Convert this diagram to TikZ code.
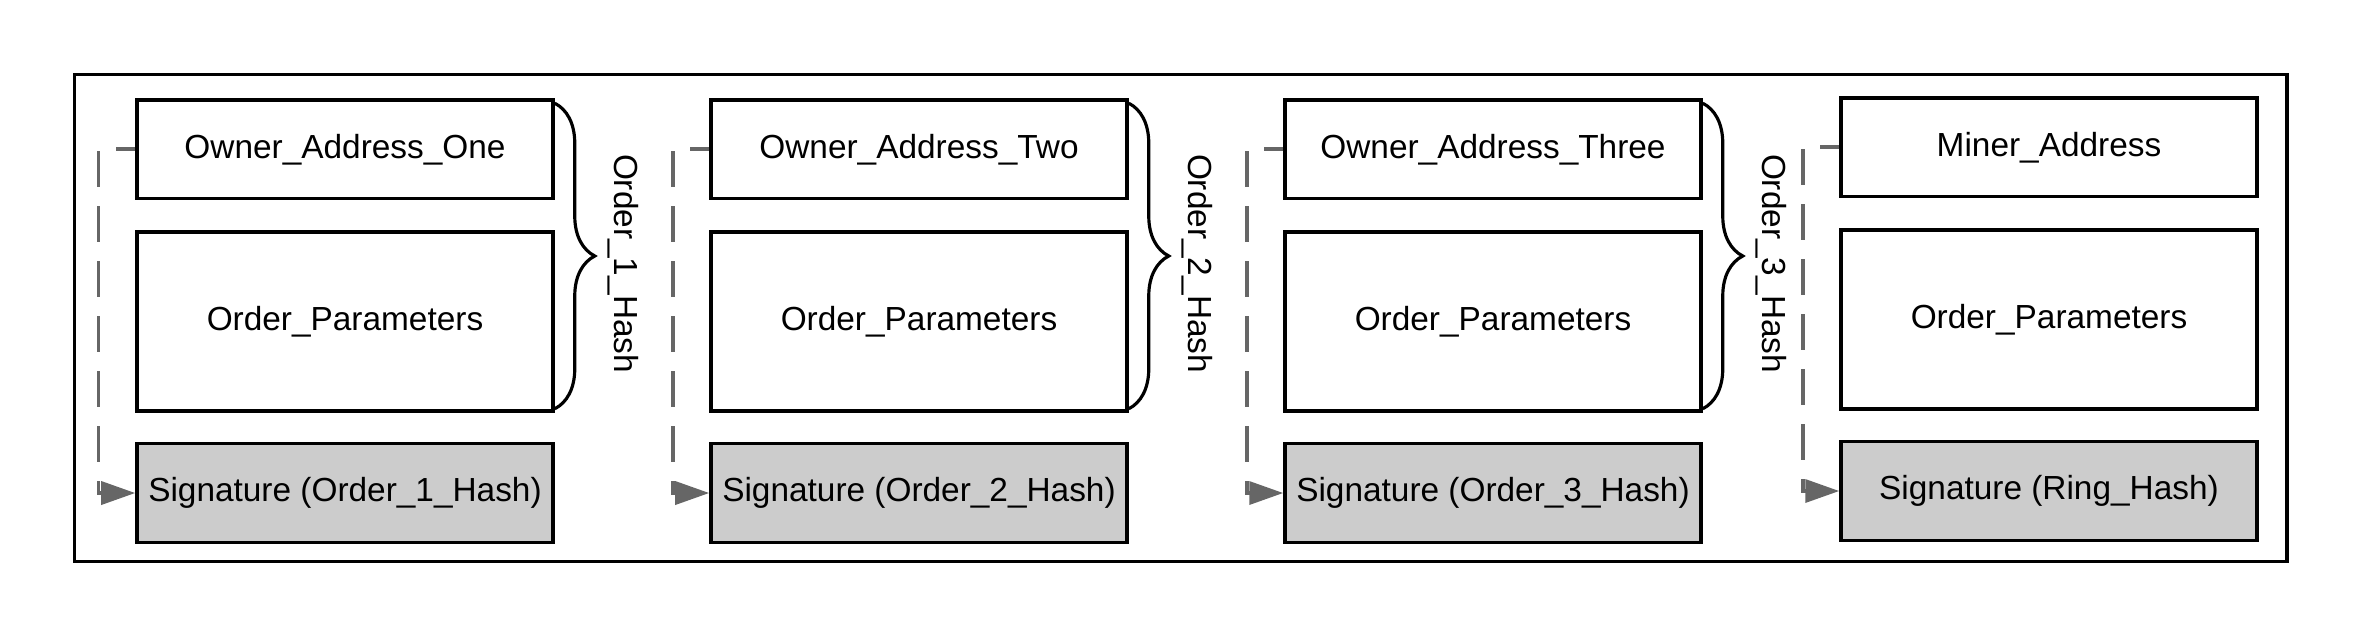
\documentclass[tikz,border=0pt]{standalone}
\usepackage{fontspec}
\setmainfont{Liberation Sans}
\usetikzlibrary{arrows.meta,positioning,calc,decorations.pathreplacing}
\definecolor{linkgray}{HTML}{666666}
\definecolor{sigfill}{HTML}{CCCCCC}
\tikzset{
  field/.style={draw, line width=1pt, minimum width=4.16cm,
    minimum height=0.985cm, inner sep=0.05cm,
    font=\fontsize{9.5pt}{11pt}\selectfont},
  params/.style={field, minimum height=1.79cm},
  sigfield/.style={field, fill=sigfill, minimum height=0.99cm},
  hashbrace/.style={decorate, decoration={brace, amplitude=0.4cm},
    line width=0.9pt},
  hashlabel/.style={rotate=-90, anchor=base,
    font=\fontsize{9.5pt}{11pt}\selectfont},
  sigline/.style={linkgray, line width=1pt,
    dash pattern=on 0.36cm off 0.19cm, dash phase=0.165cm,
    -{Triangle[length=0.34cm,width=0.23cm]}}
}

\begin{document}
\begin{tikzpicture}
  \useasboundingbox (0,0) rectangle (23.63,6.38);
  \draw[line width=1pt] (0.745,0.765) rectangle (22.87,5.635);
  % order 1
  \node[field] (own1) at (3.45,4.8875) {Owner\_Address\_One};
  \node[params,below=0.3cm of own1] (par1) {Order\_Parameters};
  \node[sigfield,below=0.29cm of par1] (sig1) {Signature (Order\_1\_Hash)};
  \draw[hashbrace] ([yshift=-0.05cm]own1.north east) -- ([yshift=0.04cm]par1.south east);
  \node[hashlabel] (hash1) at ($(own1.north east)!0.5!(par1.south east)+(0.6,-0.08)$) {Order\_1\_Hash};
  \draw[sigline] (own1.west) -- ++(-0.365,0) |- (sig1.west);
  % order 2
  \node[field] (own2) at (9.19,4.8875) {Owner\_Address\_Two};
  \node[params,below=0.3cm of own2] (par2) {Order\_Parameters};
  \node[sigfield,below=0.29cm of par2] (sig2) {Signature (Order\_2\_Hash)};
  \draw[hashbrace] ([yshift=-0.05cm]own2.north east) -- ([yshift=0.04cm]par2.south east);
  \node[hashlabel] (hash2) at ($(own2.north east)!0.5!(par2.south east)+(0.6,-0.08)$) {Order\_2\_Hash};
  \draw[sigline] (own2.west) -- ++(-0.365,0) |- (sig2.west);
  % order 3
  \node[field] (own3) at (14.93,4.8875) {Owner\_Address\_Three};
  \node[params,below=0.3cm of own3] (par3) {Order\_Parameters};
  \node[sigfield,below=0.29cm of par3] (sig3) {Signature (Order\_3\_Hash)};
  \draw[hashbrace] ([yshift=-0.05cm]own3.north east) -- ([yshift=0.04cm]par3.south east);
  \node[hashlabel] (hash3) at ($(own3.north east)!0.5!(par3.south east)+(0.6,-0.08)$) {Order\_3\_Hash};
  \draw[sigline] (own3.west) -- ++(-0.365,0) |- (sig3.west);
  % miner
  \node[field] (own4) at (20.49,4.9075) {Miner\_Address};
  \node[params,below=0.3cm of own4] (par4) {Order\_Parameters};
  \node[sigfield,below=0.29cm of par4] (sig4) {Signature (Ring\_Hash)};
  \draw[sigline] (own4.west) -- ++(-0.365,0) |- (sig4.west);
\end{tikzpicture}
\end{document}
